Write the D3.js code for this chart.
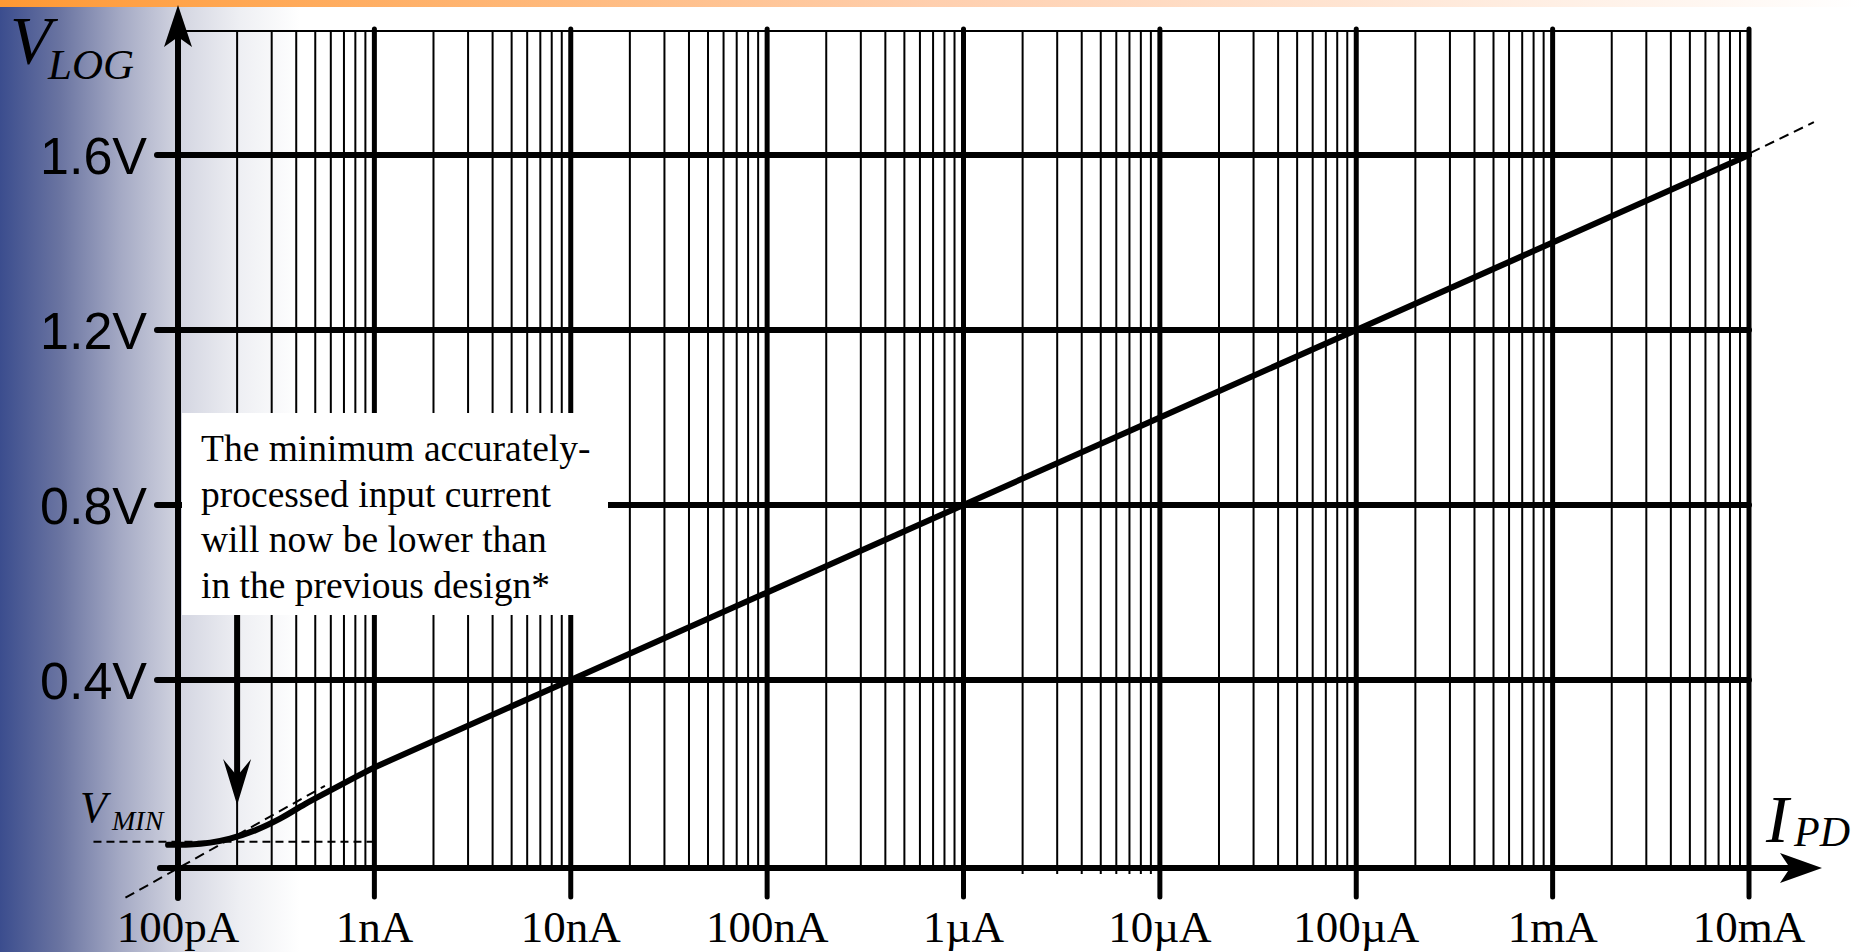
<!DOCTYPE html>
<html>
<head>
<meta charset="utf-8">
<script src="https://cdn.jsdelivr.net/npm/d3@7"></script>
<style>
  html, body { margin: 0; padding: 0; background: #ffffff; }
  svg { display: block; }
</style>
</head>
<body>
<svg id="chart" width="1863" height="952"></svg>
<script>
// ---- data -------------------------------------------------------------
const decadeTicks = [1e-10, 1e-9, 1e-8, 1e-7, 1e-6, 1e-5, 1e-4, 1e-3, 1e-2];
const xTickLabels = ["100pA", "1nA", "10nA", "100nA", "1µA", "10µA", "100µA", "1mA", "10mA"];
const minorMultipliers = [2, 3, 4, 5, 6, 7, 8, 9];
const yTicks = [0.4, 0.8, 1.2, 1.6];
const yTickLabels = ["0.4V", "0.8V", "1.2V", "1.6V"];

// photodiode current (A) and log-amplifier output (V)
const curveCurrent = [8.9e-11, 1.15e-10, 1.46e-10, 1.84e-10, 2.47e-10, 3.31e-10, 4.43e-10, 5.94e-10, 7.96e-10,
                      1e-9, 1e-8, 1e-7, 1e-6, 1e-5, 1e-4, 1e-3, 1e-2];
const curveVoltage = [0.0229, 0.0239, 0.028, 0.0371, 0.056, 0.0828, 0.116, 0.1468, 0.1771,
                      0.2, 0.4, 0.6, 0.8, 1.0, 1.2, 1.4, 1.6];
// above this current the response is purely logarithmic (straight on this plot)
const logRegionStart = 1e-9;

// ideal logarithmic extrapolation (drawn where it leaves the curve)
const extrapCurrent = [5.4e-11, 5.6e-10, null, 1.02e-2, 2.14e-2];
const extrapVoltage = [-0.098, 0.158, null, 1.605, 1.675];

const vMin = 0.03;
const vMinSpan = [7.5e-11, 1.02e-9];
const markerCurrent = 2e-10;

const noteLines = ["The minimum accurately-", "processed input current",
                   "will now be lower than", "in the previous design*"];

// ---- layout -----------------------------------------------------------
const W = 1863, H = 952;
const x = d3.scaleLog().domain([1e-10, 1e-2]).range([178, 1749]);
const y = d3.scaleLinear().domain([-0.03, 1.6]).range([868, 155]);
const gridTop = 31;
const axisY = y.range()[0];
const axisX = x.range()[0];
const serif = "'Liberation Serif', 'Times New Roman', serif";
const sans = "'Liberation Sans', Arial, sans-serif";

const svg = d3.select("#chart");
const defs = svg.append("defs");

const sideGrad = defs.append("linearGradient").attr("id", "sideGrad")
  .attr("x1", 0).attr("x2", 1).attr("y1", 0).attr("y2", 0);
[[0, "#3b4d8e"], [0.2, "#6a74a1"], [0.4, "#a4a9c4"], [0.6, "#d3d5e1"], [0.8, "#eeeff3"], [1, "#ffffff"]]
  .forEach(([o, c]) => sideGrad.append("stop").attr("offset", o).attr("stop-color", c));

const topGrad = defs.append("linearGradient").attr("id", "topGrad")
  .attr("x1", 0).attr("x2", 1).attr("y1", 0).attr("y2", 0);
[[0, "#ff9933"], [0.5, "#ffcfae"], [1, "#ffffff"]]
  .forEach(([o, c]) => topGrad.append("stop").attr("offset", o).attr("stop-color", c));

// background
svg.append("rect").attr("x", 0).attr("y", 0).attr("width", W).attr("height", H).attr("fill", "#fff");
svg.append("rect").attr("x", 0).attr("y", 7).attr("width", 300).attr("height", H - 7).attr("fill", "url(#sideGrad)");
svg.append("rect").attr("x", 0).attr("y", 0).attr("width", W).attr("height", 7).attr("fill", "url(#topGrad)");

// frame line along the top of the grid
svg.append("line")
  .attr("x1", axisX).attr("x2", x(1e-2)).attr("y1", gridTop).attr("y2", gridTop)
  .attr("stroke", "#000").attr("stroke-width", 2);

// minor vertical grid
const minorVals = [];
decadeTicks.slice(0, -1).forEach(d => minorMultipliers.forEach(m => minorVals.push({ v: d * m, d })));
svg.append("g").selectAll("line").data(minorVals).join("line")
  .attr("x1", p => x(p.v)).attr("x2", p => x(p.v))
  .attr("y1", gridTop)
  .attr("y2", p => p.d === 1e-6 ? axisY + 6 : axisY)
  .attr("stroke", "#000").attr("stroke-width", 2);

// major vertical grid / decade ticks
svg.append("g").selectAll("line").data(decadeTicks.slice(1)).join("line")
  .attr("x1", d => x(d)).attr("x2", d => x(d))
  .attr("y1", gridTop - 2).attr("y2", axisY + 29)
  .attr("stroke", "#000").attr("stroke-width", 5).attr("stroke-linecap", "round");

// horizontal grid
svg.append("g").selectAll("line").data(yTicks).join("line")
  .attr("x1", axisX - 21).attr("x2", x(1e-2))
  .attr("y1", d => y(d)).attr("y2", d => y(d))
  .attr("stroke", "#000").attr("stroke-width", 6).attr("stroke-linecap", "round");

// note box
const box = { x: 182, y: 413, w: 426, h: 202 };
svg.append("rect").attr("x", box.x).attr("y", box.y).attr("width", box.w).attr("height", box.h).attr("fill", "#fff");

// axes
svg.append("line").attr("x1", axisX).attr("x2", axisX).attr("y1", axisY + 30).attr("y2", 36)
  .attr("stroke", "#000").attr("stroke-width", 6).attr("stroke-linecap", "round");
svg.append("path").attr("d", `M${axisX},5 L${axisX + 14},47 L${axisX},37 L${axisX - 14},47 Z`).attr("fill", "#000");

svg.append("line").attr("x1", axisX - 18).attr("x2", 1792).attr("y1", axisY).attr("y2", axisY)
  .attr("stroke", "#000").attr("stroke-width", 6).attr("stroke-linecap", "round");
svg.append("path").attr("d", `M1822,${axisY} L1780,${axisY + 15} L1790,${axisY} L1780,${axisY - 15} Z`).attr("fill", "#000");

// V_MIN level
svg.append("line")
  .attr("x1", x(vMinSpan[0]) - 60).attr("x2", x(vMinSpan[1]))
  .attr("y1", y(vMin)).attr("y2", y(vMin))
  .attr("stroke", "#000").attr("stroke-width", 1.8).attr("stroke-dasharray", "8,5");

// transfer curve: smooth knee at low current, straight logarithmic region above
const curvePts = curveCurrent.map((c, i) => [c, curveVoltage[i]]);
const knee = curvePts.filter(p => p[0] <= logRegionStart);
const logPart = curvePts.filter(p => p[0] >= logRegionStart);
const kneePath = d3.line().x(p => x(p[0])).y(p => y(p[1])).curve(d3.curveMonotoneX)(knee);
const logPath = d3.line().x(p => x(p[0])).y(p => y(p[1]))(logPart).replace(/^M/, "L");
svg.append("path").attr("d", kneePath + logPath)
  .attr("fill", "none").attr("stroke", "#000").attr("stroke-width", 6)
  .attr("stroke-linecap", "round").attr("stroke-linejoin", "round");

// extrapolated ideal line
const extrapPts = extrapCurrent.map((c, i) => [c, extrapVoltage[i]]);
const dashLine = d3.line().defined(p => p[0] !== null).x(p => x(p[0])).y(p => y(p[1]));
svg.append("path").attr("d", dashLine(extrapPts))
  .attr("fill", "none").attr("stroke", "#000").attr("stroke-width", 2)
  .attr("stroke-dasharray", "10,6");

// arrow from the note to the curve
const ax = x(markerCurrent);
svg.append("line").attr("x1", ax).attr("x2", ax).attr("y1", box.y + box.h).attr("y2", 778)
  .attr("stroke", "#000").attr("stroke-width", 6);
svg.append("path").attr("d", `M${ax},805 L${ax + 14},759 L${ax},776 L${ax - 14},759 Z`).attr("fill", "#000");

// note text
const note = svg.append("text")
  .attr("font-family", serif).attr("font-size", 37.5).attr("fill", "#000");
noteLines.forEach((t, i) => note.append("tspan").attr("x", 201).attr("y", 461 + i * 45.7).text(t));

// y tick labels
svg.append("g").selectAll("text").data(yTicks).join("text")
  .attr("x", 147).attr("y", d => y(d) + 19)
  .attr("text-anchor", "end")
  .attr("font-family", sans)
  .attr("font-size", 52).attr("fill", "#000")
  .text((d, i) => yTickLabels[i]);

// x tick labels
svg.append("g").selectAll("text").data(decadeTicks).join("text")
  .attr("x", d => x(d)).attr("y", 942)
  .attr("text-anchor", "middle")
  .attr("font-family", serif)
  .attr("font-size", 45).attr("fill", "#000")
  .text((d, i) => xTickLabels[i]);

// axis titles
const vlog = svg.append("text").attr("font-family", serif).attr("font-style", "italic").attr("fill", "#000");
vlog.append("tspan").attr("x", 10).attr("y", 63).attr("font-size", 68).text("V");
vlog.append("tspan").attr("x", 48).attr("y", 79).attr("font-size", 43).text("LOG");

const ipd = svg.append("text").attr("font-family", serif).attr("font-style", "italic").attr("fill", "#000");
ipd.append("tspan").attr("x", 1766).attr("y", 842).attr("font-size", 68).text("I");
ipd.append("tspan").attr("x", 1794).attr("y", 846).attr("font-size", 42).text("PD");

const vmin = svg.append("text").attr("font-family", serif).attr("font-style", "italic").attr("fill", "#000");
vmin.append("tspan").attr("x", 80).attr("y", 822).attr("font-size", 44).text("V");
vmin.append("tspan").attr("x", 112).attr("y", 830).attr("font-size", 28).text("MIN");
</script>
</body>
</html>
